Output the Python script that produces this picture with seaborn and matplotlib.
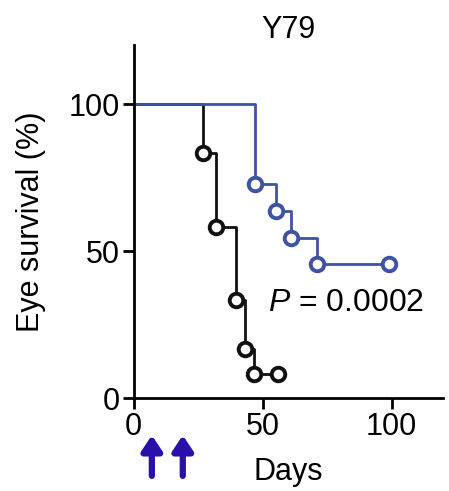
import matplotlib
matplotlib.use("Agg")
import matplotlib.pyplot as plt
import pandas as pd
import seaborn as sns

# Kaplan-Meier steps
black_days = [27, 32, 39.5, 43, 46.5]
black_surv = [83.3, 58.3, 33.3, 16.7, 8.3]
black_end = 56

blue_days = [47, 55, 61, 71]
blue_surv = [72.7, 63.6, 54.5, 45.5]
blue_end = 99

treatment_days = [7, 19]

BLACK = "#111111"
BLUE = "#4052a3"
ARROW = "#2a0fa8"
FS = 22


def step_frame(days, surv, end):
    return pd.DataFrame({
        "day": [0] + days + [end],
        "survival": [100] + surv + [surv[-1]],
    })


sns.set_theme(style="ticks")
plt.rcParams["font.family"] = ["Liberation Sans", "DejaVu Sans"]
plt.rcParams["mathtext.fontset"] = "custom"
plt.rcParams["mathtext.it"] = "Liberation Sans:italic"
plt.rcParams["mathtext.rm"] = "Liberation Sans"
plt.rcParams["text.color"] = "black"
plt.rcParams["axes.labelcolor"] = "black"
plt.rcParams["xtick.color"] = "black"
plt.rcParams["ytick.color"] = "black"

fig = plt.figure(figsize=(4.49, 4.91), dpi=100)
ax = fig.add_axes([0.298, 0.189, 0.689, 0.719])

for days, surv, end, color in [
    (black_days, black_surv, black_end, BLACK),
    (blue_days, blue_surv, blue_end, BLUE),
]:
    df = step_frame(days, surv, end)
    sns.lineplot(data=df, x="day", y="survival", drawstyle="steps-post",
                 estimator=None, color=color, linewidth=2, ax=ax)
    marks = pd.DataFrame({"day": days + [end], "survival": surv + [surv[-1]]})
    sns.scatterplot(data=marks, x="day", y="survival", marker="o", s=95,
                    facecolor="white", edgecolor=color, linewidth=2.8,
                    zorder=5, ax=ax)

ax.set_xlim(0, 120)
ax.set_ylim(0, 120)
ax.set_xticks([0, 50, 100])
ax.set_yticks([0, 50, 100])
ax.tick_params(labelsize=FS, width=2, length=8, pad=2)
for side in ["left", "bottom"]:
    ax.spines[side].set_linewidth(2)
    ax.spines[side].set_color("black")
sns.despine(ax=ax)

ax.set_title("Y79", fontsize=FS, pad=4)
ax.set_xlabel("Days", fontsize=FS, labelpad=11)
ax.set_ylabel("Eye survival (%)", fontsize=FS, labelpad=16)

ax.text(52, 32.5, r"$P$ = 0.0002", fontsize=23, va="center", ha="left")

for d in treatment_days:
    ax.annotate("", xy=(d, -0.105), xytext=(d, -0.22),
                xycoords=("data", "axes fraction"),
                textcoords=("data", "axes fraction"),
                arrowprops=dict(arrowstyle="-|>,head_width=0.5,head_length=0.75",
                                color=ARROW, lw=4.5, shrinkA=0, shrinkB=0),
                annotation_clip=False)

fig.savefig("out.png", dpi=100)
